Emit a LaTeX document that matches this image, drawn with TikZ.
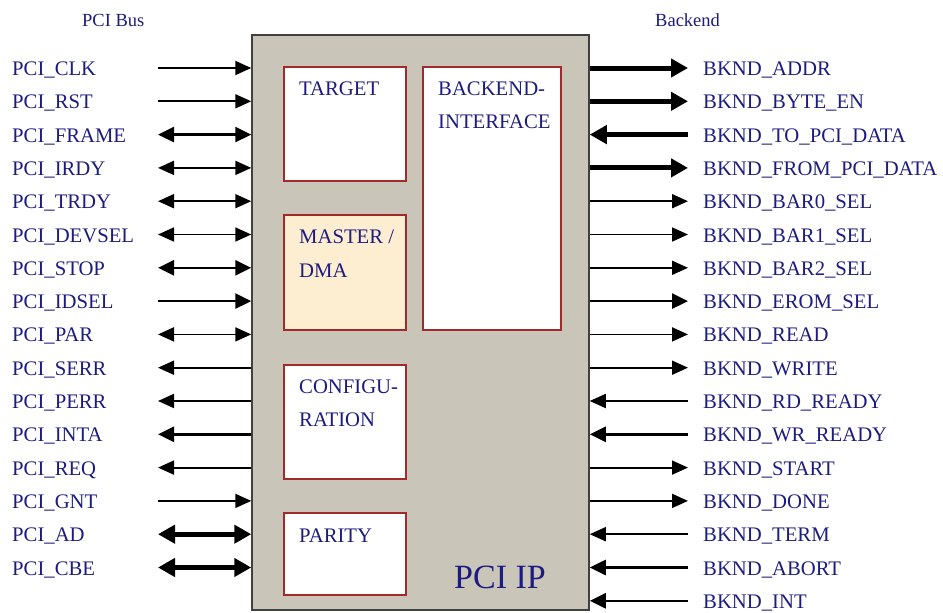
\documentclass[tikz,border=0pt]{standalone}
\usepackage{fontspec}
\setmainfont{Liberation Serif}
\usetikzlibrary{arrows.meta}
\definecolor{ipgray}{HTML}{C9C5B9}
\definecolor{navy}{HTML}{1C1C80}
\definecolor{blkred}{HTML}{A32A2A}
\definecolor{dmafill}{HTML}{FDEED2}

\tikzset{
  sigtxt/.style={navy,font=\fontsize{20.7}{24}\selectfont,anchor=base west,inner sep=0pt},
  wthin/.style={line width=1.8pt,>={Triangle[length=16pt,width=14pt]}},
  wmed/.style={line width=2.6pt,>={Triangle[length=16pt,width=15pt]}},
  wfat/.style={line width=5pt,>={Triangle[length=17pt,width=18pt]}},
  sigin/.style={->},
  sigout/.style={<-},
  sigbi/.style={<->},
  blk/.style={draw=blkred,line width=1.2pt,fill=white},
}

\begin{document}
\begin{tikzpicture}[x=1pt,y=-1pt]
  \useasboundingbox (0,0) rectangle (943,613);

  % IP block
  \node[draw=black!75,line width=1.5pt,fill=ipgray,minimum width=337pt,minimum height=575pt,inner sep=0pt] (ip) at (420.5,322.5) {};

  % Sub blocks
  \draw[blk] (284,67) rectangle (406,181);
  \node[sigtxt] (target) at (299,95) {TARGET};

  \draw[blk] (423,67) rectangle (561,330);
  \node[sigtxt] (bkif1) at (438,95) {BACKEND-};
  \node[sigtxt] (bkif2) at (438,128) {INTERFACE};

  \draw[blk,fill=dmafill] (284,215) rectangle (406,330);
  \node[sigtxt] (master1) at (299,243) {MASTER /};
  \node[sigtxt] (master2) at (299,277) {DMA};

  \draw[blk] (284,365) rectangle (406,479);
  \node[sigtxt] (config1) at (299,393) {CONFIGU-};
  \node[sigtxt] (config2) at (299,426) {RATION};

  \draw[blk] (284,513) rectangle (406,595);
  \node[sigtxt] (parity) at (299,542) {PARITY};

  \node[sigtxt,font=\fontsize{34}{40}\selectfont] (ipname) at (454,588) {PCI IP};

  % Headers
  \node[sigtxt,font=\fontsize{18.5}{22}\selectfont] (pcibus) at (82,26) {PCI Bus};
  \node[sigtxt,font=\fontsize{18.5}{22}\selectfont] (backend) at (655,26) {Backend};

  % PCI side
  \foreach \i/\sig/\dir/\w in {1/CLK/sigin/wthin, 2/RST/sigin/wthin, 3/FRAME/sigbi/wmed,
      4/IRDY/sigbi/wthin, 5/TRDY/sigbi/wthin, 6/DEVSEL/sigbi/wthin, 7/STOP/sigbi/wmed,
      8/IDSEL/sigin/wmed, 9/PAR/sigbi/wthin, 10/SERR/sigout/wthin, 11/PERR/sigout/wthin,
      12/INTA/sigout/wmed, 13/REQ/sigout/wthin, 14/GNT/sigin/wthin, 15/AD/sigbi/wfat,
      16/CBE/sigbi/wfat} {
    \node[sigtxt] (lbl\i) at (12,{75.5+(\i-1)*33.3}) {PCI\_\sig};
    \coordinate (lend\i) at (158,{68+(\i-1)*33.3});
    \draw[\w,\dir] (lend\i) -- (lend\i -| ip.west);
  }

  % Backend side
  \foreach \i/\sig/\dir/\w in {1/ADDR/sigout/wfat, 2/BYTE\_EN/sigout/wfat,
      3/TO\_PCI\_DATA/sigin/wfat, 4/FROM\_PCI\_DATA/sigout/wfat, 5/BAR0\_SEL/sigout/wthin,
      6/BAR1\_SEL/sigout/wthin, 7/BAR2\_SEL/sigout/wthin, 8/EROM\_SEL/sigout/wmed,
      9/READ/sigout/wthin, 10/WRITE/sigout/wthin, 11/RD\_READY/sigin/wthin,
      12/WR\_READY/sigin/wmed, 13/START/sigout/wthin, 14/DONE/sigout/wthin,
      15/TERM/sigin/wthin, 16/ABORT/sigin/wmed, 17/INT/sigin/wmed} {
    \node[sigtxt] (rlbl\i) at (703,{75.5+(\i-1)*33.3}) {BKND\_\sig};
    \coordinate (rend\i) at (688,{68+(\i-1)*33.3});
    \draw[\w,\dir] (rend\i) -- (rend\i -| ip.east);
  }
\end{tikzpicture}
\end{document}
